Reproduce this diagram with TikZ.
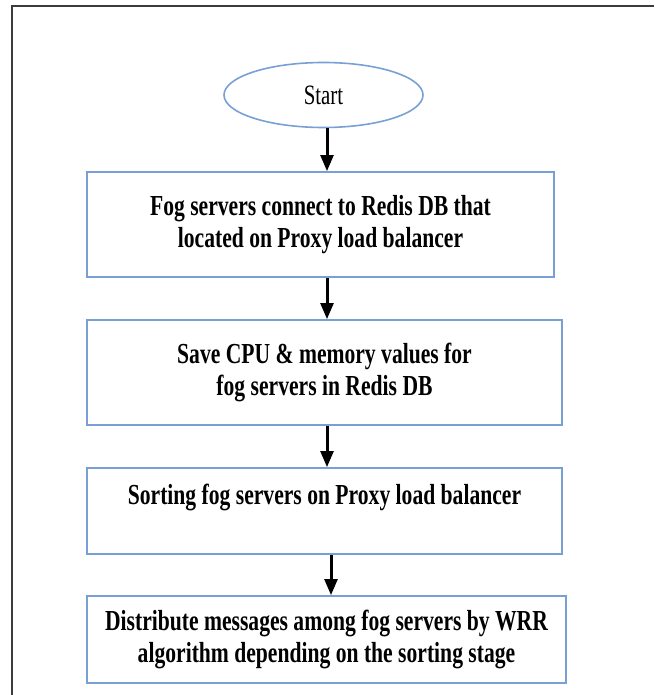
\documentclass[tikz,border=0pt]{standalone}
\usepackage{fontspec}
\setmainfont{Liberation Serif}[FakeStretch=0.745]
\usetikzlibrary{shapes.geometric,arrows.meta}
\definecolor{boxblue}{RGB}{120,160,212}
\definecolor{framegray}{RGB}{60,60,60}
\tikzset{
  flowbox/.style={draw=boxblue, line width=1.6pt, rectangle, inner sep=0pt,
    align=center, font=\fontsize{29}{32.5}\selectfont\bfseries},
  startshape/.style={draw=boxblue, line width=1.6pt, ellipse, inner sep=0pt,
    minimum width=199pt, minimum height=65pt, font=\fontsize{28}{30}\selectfont},
  arr/.style={line width=3pt, -{Triangle[width=12.7pt,length=16pt]}},
  frameline/.style={draw=framegray, line width=2pt}
}
\begin{document}
\begin{tikzpicture}[x=1pt,y=-1pt]
\useasboundingbox (0,0) rectangle (654,695);
\coordinate (ftl) at (12,6);
\coordinate (ftr) at (654,6);
\coordinate (fbl) at (12,695);
\draw[frameline] (ftr) -- (ftl) -- (fbl);

\node[startshape] (start) at (323.5,95) {Start};
\node[flowbox, minimum width=467pt, minimum height=105pt] (b1) at (320.5,224.5)
  {Fog servers connect to Redis DB that\\located on Proxy load balancer};
\node[flowbox, minimum width=475pt, minimum height=105pt] (b2) at (324.5,372.5)
  {Save CPU \& memory values for\\fog servers in Redis DB};
\node[flowbox, minimum width=475pt, minimum height=86pt] (b3) at (324.5,511)
  {Sorting fog servers on Proxy load balancer\\\mbox{}};
\node[flowbox, minimum width=479pt, minimum height=87pt] (b4) at (326.5,639.5)
  {Distribute messages among fog servers by WRR\\algorithm depending on the sorting stage};

\coordinate (a1) at ([xshift=3.5pt]start.south);
\coordinate (a2) at ([xshift=6.5pt]b1.south);
\coordinate (a3) at ([xshift=2.5pt]b2.south);
\coordinate (a4) at ([xshift=6.5pt]b3.south);
\draw[arr] (a1) -- (a1 |- b1.north);
\draw[arr] (a2) -- (a2 |- b2.north);
\draw[arr] (a3) -- (a3 |- b3.north);
\draw[arr] (a4) -- (a4 |- b4.north);
\end{tikzpicture}
\end{document}
